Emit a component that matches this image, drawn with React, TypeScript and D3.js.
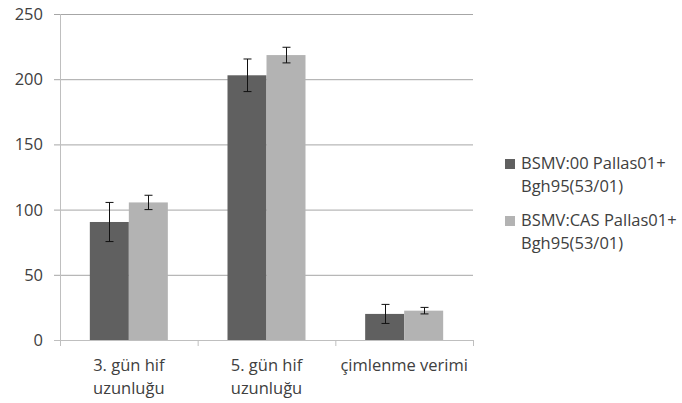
import React, { useRef, useEffect } from 'react';
import * as d3 from 'd3';

const categories = [['3. gün hif', 'uzunluğu'], ['5. gün hif', 'uzunluğu'], ['çimlenme verimi']];
const seriesNames = [['BSMV:00 Pallas01+', 'Bgh95(53/01)'], ['BSMV:CAS Pallas01+', 'Bgh95(53/01)']];
const seriesColors = ['#606060', '#b3b3b3'];
const valuesA = [90.5, 203, 20];
const errorsA = [15, 12.5, 7.3];
const valuesB = [105.5, 218.5, 22.5];
const errorsB = [5.5, 6, 2.5];
const yTicks = [0, 50, 100, 150, 200, 250];

export default function App() {
  const svgRef = useRef<SVGSVGElement>(null);

  useEffect(() => {
    if (!svgRef.current) return;
    const svg = d3.select(svgRef.current);
    svg.selectAll('*').remove();

    const width = 682;
    const height = 403;
    const margin = { top: 14, right: 209, bottom: 63, left: 60 };
    const font = "'Open Sans', sans-serif";
    const fs = 16.5;
    const textColor = '#404040';

    const x = d3.scaleBand<number>()
      .domain(categories.map((_, i) => i))
      .range([margin.left, width - margin.right])
      .paddingInner(0)
      .paddingOuter(0);
    const y = d3.scaleLinear().domain([0, 250]).range([height - margin.bottom, margin.top]);

    const groupW = 78;
    const inner = d3.scaleBand<number>().domain([0, 1]).range([0, groupW]);

    // gridlines
    svg.append('g')
      .selectAll('line')
      .data(yTicks.filter(t => t > 0))
      .join('line')
      .attr('x1', margin.left - 6)
      .attr('x2', width - margin.right)
      .attr('y1', d => y(d) + 0.5)
      .attr('y2', d => y(d) + 0.5)
      .attr('stroke', '#a6a6a6')
      .attr('stroke-width', 1);

    // axes
    svg.append('line')
      .attr('x1', margin.left + 0.5).attr('x2', margin.left + 0.5)
      .attr('y1', y(250)).attr('y2', y(0) + 6)
      .attr('stroke', '#bfbfbf');
    svg.append('line')
      .attr('x1', margin.left - 6).attr('x2', width - margin.right)
      .attr('y1', y(0) + 0.5).attr('y2', y(0) + 0.5)
      .attr('stroke', '#bfbfbf');

    svg.append('g')
      .selectAll('text')
      .data(yTicks)
      .join('text')
      .attr('x', margin.left - 17)
      .attr('y', d => y(d) + 6)
      .attr('text-anchor', 'end')
      .attr('font-family', font)
      .attr('font-size', fs)
      .attr('fill', textColor)
      .text(d => d);

    // x ticks
    const bounds = [...categories.map((_, i) => x(i)!), width - margin.right];
    svg.append('g')
      .selectAll('line')
      .data(bounds)
      .join('line')
      .attr('x1', d => d + 0.5).attr('x2', d => d + 0.5)
      .attr('y1', y(0)).attr('y2', y(0) + 6)
      .attr('stroke', '#bfbfbf');

    // bars
    const series = [
      { values: valuesA, errors: errorsA },
      { values: valuesB, errors: errorsB },
    ];
    series.forEach((s, si) => {
      svg.append('g')
        .selectAll('rect')
        .data(s.values)
        .join('rect')
        .attr('x', (_, i) => x(i)! + (x.bandwidth() - groupW) / 2 + inner(si)!)
        .attr('y', d => y(d))
        .attr('width', inner.bandwidth())
        .attr('height', d => y(0) - y(d))
        .attr('fill', seriesColors[si]);
    });

    // error bars
    series.forEach((s, si) => {
      const g = svg.append('g').attr('stroke', '#111').attr('stroke-width', 1);
      s.values.forEach((v, i) => {
        const cx = Math.round(x(i)! + (x.bandwidth() - groupW) / 2 + inner(si)! + inner.bandwidth() / 2) + 0.5;
        const top = y(v + s.errors[i]);
        const bot = y(v - s.errors[i]);
        g.append('line').attr('x1', cx).attr('x2', cx).attr('y1', top).attr('y2', bot);
        g.append('line').attr('x1', cx - 4).attr('x2', cx + 4).attr('y1', top).attr('y2', top);
        g.append('line').attr('x1', cx - 4).attr('x2', cx + 4).attr('y1', bot).attr('y2', bot);
      });
    });

    // x labels
    categories.forEach((lines, i) => {
      const t = svg.append('text')
        .attr('x', x(i)! + x.bandwidth() / 2)
        .attr('y', y(0) + 31)
        .attr('text-anchor', 'middle')
        .attr('font-family', font)
        .attr('font-size', fs)
        .attr('fill', textColor);
      lines.forEach((l, li) => {
        t.append('tspan')
          .attr('x', x(i)! + x.bandwidth() / 2)
          .attr('dy', li === 0 ? 0 : 23)
          .text(l);
      });
    });

    // legend
    seriesNames.forEach((lines, si) => {
      const base = 169 + si * 57;
      svg.append('rect')
        .attr('x', 505).attr('y', base - 10)
        .attr('width', 10).attr('height', 10)
        .attr('fill', seriesColors[si]);
      const t = svg.append('text')
        .attr('x', 521)
        .attr('y', base)
        .attr('font-family', font)
        .attr('font-size', fs)
        .attr('fill', textColor);
      lines.forEach((l, li) => {
        t.append('tspan').attr('x', 521).attr('dy', li === 0 ? 0 : 23).text(l);
      });
    });
  }, []);

  return (
    <svg ref={svgRef} width={682} height={403}
      style={{ position: 'absolute', left: 0, top: 0, background: '#fff' }} />
  );
}
